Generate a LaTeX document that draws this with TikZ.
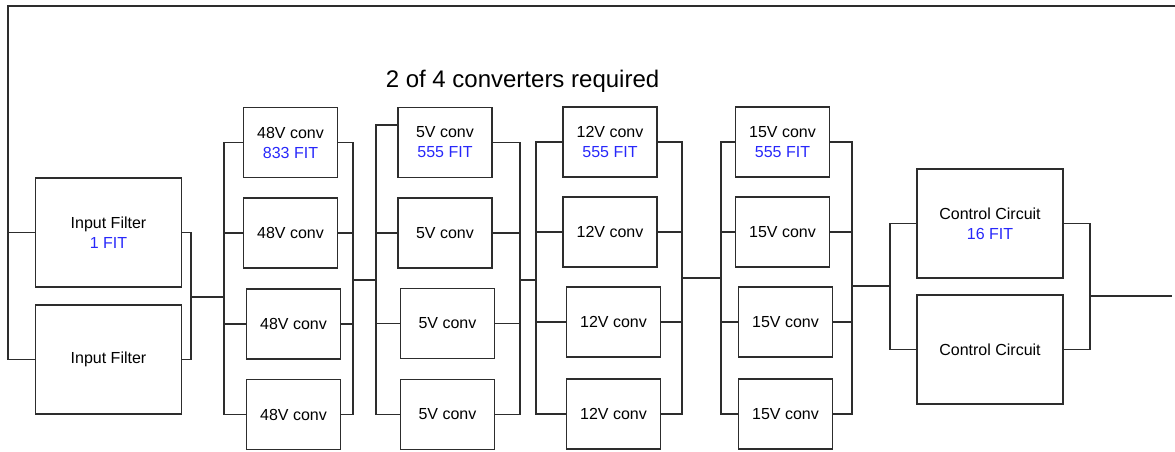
\documentclass[tikz,border=0pt]{standalone}
\usepackage{fontspec}
\setmainfont{Liberation Sans}
\usetikzlibrary{positioning}

\definecolor{wirecol}{RGB}{45,45,45}
\definecolor{fitblue}{RGB}{40,40,250}
\newcommand{\fitval}[1]{\textcolor{fitblue}{#1 FIT}}

\begin{document}
\begin{tikzpicture}[x=1pt, y=-1pt,
  wire/.style={draw=wirecol, line width=1.4pt},
  conv/.style={draw=wirecol, line width=1.3pt, minimum width=94pt, minimum height=70pt,
    inner sep=0pt, align=center, font=\fontsize{16}{20}\selectfont},
  block/.style={conv, minimum width=146pt, minimum height=109pt}]
  \useasboundingbox (0,0) rectangle (1175,452);

  \node[font=\fontsize{24}{28}\selectfont, anchor=base] (title) at (522.5,88) {2 of 4 converters required};

  % input filters
  \node[block] (if1) at (108.5,232.5) {Input Filter\\\fitval{1}};
  \node[block] (if2) at (108.5,359.5) {Input Filter};

  % converters
  \node[conv] (v48a) at (290.5,142.5) {48V conv\\\fitval{833}};
  \node[conv] (v48b) at (290.5,233) {48V conv};
  \node[conv] (v48c) at (293.5,324) {48V conv};
  \node[conv] (v48d) at (293.5,414.5) {48V conv};

  \node[conv] (v5a) at (445,142.5) {5V conv\\\fitval{555}};
  \node[conv] (v5b) at (445,233) {5V conv};
  \node[conv] (v5c) at (447.5,323.5) {5V conv};
  \node[conv] (v5d) at (447.5,414.5) {5V conv};

  \node[conv] (v12a) at (610,142) {12V conv\\\fitval{555}};
  \node[conv] (v12b) at (610,232) {12V conv};
  \node[conv] (v12c) at (613.5,322) {12V conv};
  \node[conv] (v12d) at (613.5,414) {12V conv};

  \node[conv] (v15a) at (782.5,142) {15V conv\\\fitval{555}};
  \node[conv] (v15b) at (782.5,232) {15V conv};
  \node[conv] (v15c) at (785.5,322) {15V conv};
  \node[conv] (v15d) at (785.5,414) {15V conv};

  % control circuits
  \node[block] (cc1) at (990,223.5) {Control Circuit\\\fitval{16}};
  \node[block] (cc2) at (990,349.5) {Control Circuit};

  % bus junctions
  \coordinate (corner) at (8,6);
  \coordinate (topend) at (1175,6);
  \coordinate (ifout) at (191,297);
  \coordinate (in48) at (224,297);
  \coordinate (out48) at (353,280);
  \coordinate (in5) at (376,280);
  \coordinate (out5) at (520,280);
  \coordinate (in12) at (536,280);
  \coordinate (out12) at (682,278);
  \coordinate (in15) at (721,278);
  \coordinate (out15) at (852,286);
  \coordinate (incc) at (890,286);
  \coordinate (outcc) at (1090,296);
  \coordinate (outend) at (1172,296);

  \draw[wire] (if1.west) -| (corner) -- (topend);
  \draw[wire] (if2.west) -| (corner);
  \draw[wire] (if1.east) -| (ifout);
  \draw[wire] (if2.east) -| (ifout);
  \draw[wire] (ifout) -- (in48);

  \foreach \n in {a,b,c,d} {
    \draw[wire] (in48) |- (v48\n.west);
    \draw[wire] (v48\n.east) -| (out48);
  }
  \draw[wire] (out48) -- (in5);

  \draw[wire] (in5) |- ([yshift=17.5pt]v5a.west);
  \foreach \n in {b,c,d}
    \draw[wire] (in5) |- (v5\n.west);
  \foreach \n in {a,b,c,d}
    \draw[wire] (v5\n.east) -| (out5);
  \draw[wire] (out5) -- (in12);

  \foreach \n in {a,b,c,d} {
    \draw[wire] (in12) |- (v12\n.west);
    \draw[wire] (v12\n.east) -| (out12);
  }
  \draw[wire] (out12) -- (in15);

  \foreach \n in {a,b,c,d} {
    \draw[wire] (in15) |- (v15\n.west);
    \draw[wire] (v15\n.east) -| (out15);
  }
  \draw[wire] (out15) -- (incc);

  \draw[wire] (incc) |- (cc1.west);
  \draw[wire] (incc) |- (cc2.west);
  \draw[wire] (cc1.east) -| (outcc);
  \draw[wire] (cc2.east) -| (outcc);
  \draw[wire] (outcc) -- (outend);
\end{tikzpicture}
\end{document}
